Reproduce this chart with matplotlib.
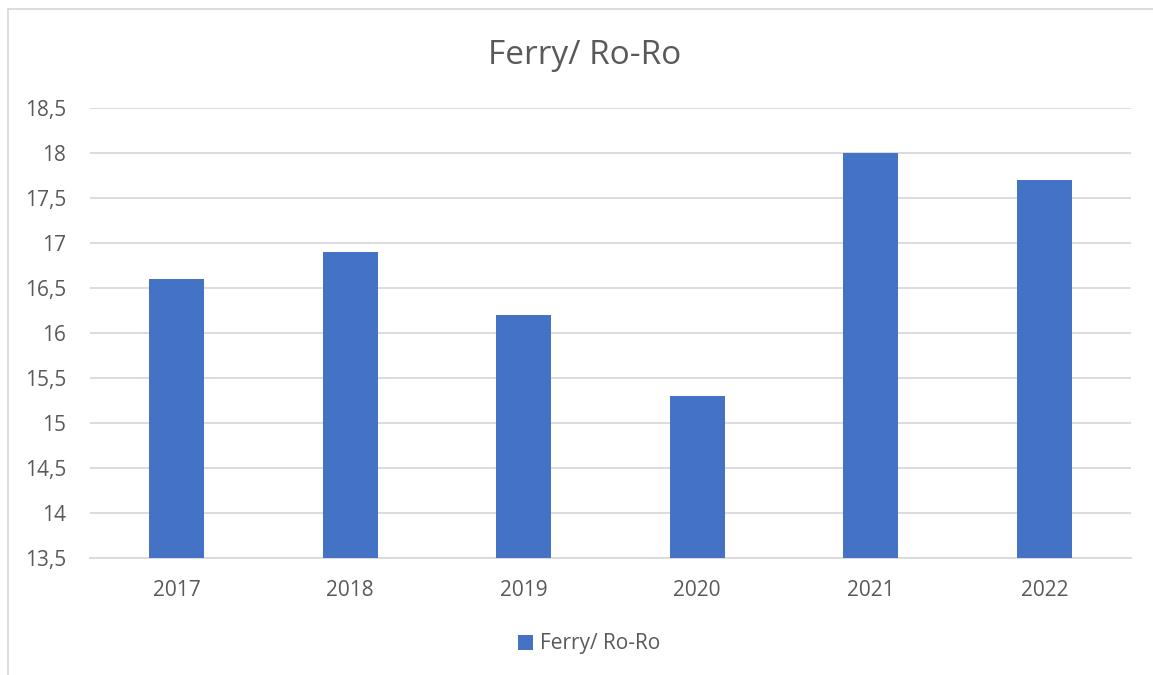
import matplotlib
matplotlib.use("Agg")
import matplotlib.pyplot as plt
from matplotlib.lines import Line2D
from matplotlib.patches import Patch

years = ["2017", "2018", "2019", "2020", "2021", "2022"]
values = [16.6, 16.9, 16.2, 15.3, 18.0, 17.7]
yticks = [13.5, 14, 14.5, 15, 15.5, 16, 16.5, 17, 17.5, 18, 18.5]
ytick_labels = ["13,5", "14", "14,5", "15", "15,5", "16", "16,5", "17", "17,5", "18", "18,5"]
series_name = "Ferry/ Ro-Ro"
title = "Ferry/ Ro-Ro"

W, H = 1153, 675
plt.rcParams['font.family'] = ['Open Sans', 'DejaVu Sans']
fig = plt.figure(figsize=(W / 100, H / 100), dpi=100)
fig.patch.set_facecolor("white")

ax = fig.add_axes([90 / W, 1 - 558 / H, (1131 - 90) / W, (558 - 108) / H])
x = list(range(len(years)))
ax.bar(x, values, width=0.315, color="#4472C4", zorder=3)
ax.set_xlim(-0.5, len(years) - 0.5)
ax.set_ylim(13.5, 18.5)
ax.set_yticks(yticks)
ax.set_yticklabels(ytick_labels)
ax.set_xticks(x)
ax.set_xticklabels(years)
ax.grid(axis="y", color="#D9D9D9", linewidth=1.3, zorder=0)
for s in ["top", "right", "left"]:
    ax.spines[s].set_visible(False)
ax.spines["bottom"].set_color("#D9D9D9")
ax.spines["bottom"].set_linewidth(1.3)
ax.tick_params(axis="both", length=0, labelsize=15, colors="#595959")
ax.tick_params(axis="y", pad=17)
ax.tick_params(axis="x", pad=16)

fig.text(0.5 * (489 + 680) / W, 1 - 55 / H, title, ha="center", va="center",
         fontsize=24, color="#595959")

leg = fig.legend(handles=[Patch(facecolor="#4472C4", label=series_name)],
                 loc="center", bbox_to_anchor=(589 / W, 1 - 644 / H),
                 frameon=False, fontsize=15, handlelength=0.7, handleheight=0.7,
                 handletextpad=0.35, labelcolor="#595959")

# chart area border (left and top visible)
fig.add_artist(Line2D([8 / W, 8 / W], [0, 1 - 9 / H], color="#D9D9D9", linewidth=1.3,
                      transform=fig.transFigure))
fig.add_artist(Line2D([8 / W, 1], [1 - 9 / H, 1 - 9 / H], color="#D9D9D9", linewidth=1.3,
                      transform=fig.transFigure))

fig.savefig("out.png", dpi=100, facecolor="white")
